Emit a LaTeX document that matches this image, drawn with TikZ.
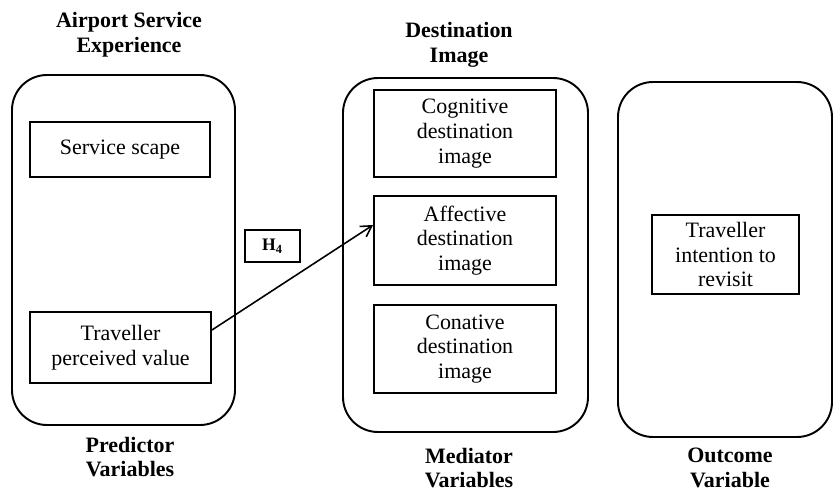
\documentclass[tikz,border=0pt]{standalone}
\usepackage{fontspec}
\setmainfont{Liberation Serif}
\usepackage{tikz}
\usetikzlibrary{arrows.meta,positioning}

\begin{document}
\begin{tikzpicture}[every node/.style={font=\fontsize{12.5}{14}\selectfont},
  group/.style={draw, line width=1.1pt, rounded corners=0.7cm},
  varbox/.style={draw, line width=1.1pt, align=center, inner sep=2pt},
  heading/.style={align=center, font=\fontsize{12.5}{14}\selectfont\bfseries}]

%% ── Frame: 834 x 492 px, 1px = 0.02cm ────────────────────────────────────────
\useasboundingbox (0,0) rectangle (16.68,9.84);

%% ── Group frames ─────────────────────────────────────────────────────────────
\node[group, minimum width=4.46cm, minimum height=7.00cm] (pred) at (2.47, 4.84) {};
\node[group, minimum width=4.90cm, minimum height=7.08cm] (med)  at (9.31, 4.74) {};
\node[group, minimum width=4.28cm, minimum height=7.10cm] (out)  at (14.50, 4.65) {};

%% ── Predictor boxes ──────────────────────────────────────────────────────────
\node[varbox, minimum width=3.60cm, minimum height=1.10cm] (scape) at (2.40, 6.85)
  {Service scape};
\node[varbox, minimum width=3.62cm, minimum height=1.42cm] (value) at (2.41, 2.89)
  {Traveller\\perceived value};

%% ── Mediator boxes ───────────────────────────────────────────────────────────
\node[varbox, minimum width=3.64cm, minimum height=1.74cm] (cogn) at (9.30, 7.17)
  {Cognitive\\destination\\image};
\node[varbox, minimum width=3.64cm, minimum height=1.78cm] (affe) at (9.30, 5.03)
  {Affective\\destination\\image};
\node[varbox, minimum width=3.64cm, minimum height=1.76cm] (cona) at (9.30, 2.86)
  {Conative\\destination\\image};

%% ── Outcome box ──────────────────────────────────────────────────────────────
\node[varbox, minimum width=2.94cm, minimum height=1.58cm] (revisit) at (14.51, 4.75)
  {Traveller\\intention to\\revisit};

%% ── Hypothesis ───────────────────────────────────────────────────────────────
\node[varbox, minimum width=1.10cm, minimum height=0.64cm,
      font=\fontsize{10}{12}\selectfont\bfseries] (hyp) at (5.45, 4.92)
  {H\textsubscript{4}};
\draw[-{Straight Barb[length=6pt,width=7pt]}, line width=0.9pt]
  ([yshift=0.35cm]value.east) -- ([yshift=0.31cm]affe.west);

%% ── Headings ─────────────────────────────────────────────────────────────────
\node[heading] (headA) at (2.58, 9.14) {Airport Service\\Experience};
\node[heading] (headD) at (9.18, 8.94) {Destination\\Image};

\node[heading] (labP) at (2.60, 0.70) {Predictor\\Variables};
\node[heading] (labM) at (9.38, 0.48) {Mediator\\Variables};
\node[heading] (labO) at (14.60, 0.48) {Outcome\\Variable};

\end{tikzpicture}
\end{document}
